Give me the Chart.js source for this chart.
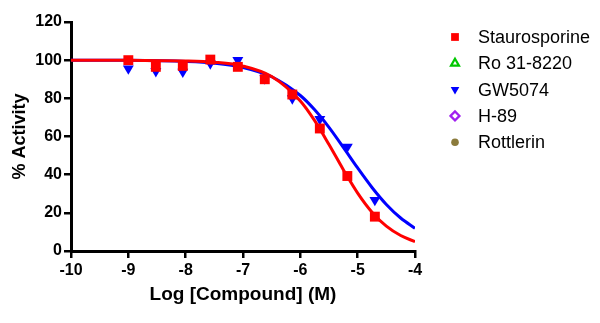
<!DOCTYPE html>
<html>
<head>
<meta charset="utf-8">
<script src="https://cdn.jsdelivr.net/npm/chart.js@4.4.0/dist/chart.umd.min.js"></script>
<style>
  html, body { margin: 0; padding: 0; background: #fff; }
  #wrap { width: 600px; height: 323px; }
</style>
</head>
<body>
<div id="wrap"><canvas id="doseChart"></canvas></div>
<script>
// log molar concentration of each dilution (3-fold series)
const logConc = [-9, -8.52, -8.05, -7.57, -7.09, -6.62, -6.14, -5.66, -5.18, -4.70];
const stauroActivity = [100, 96.5, 97, 100.3, 96.5, 90, 82, 64.2, 39.3, 18];
const gwActivity = [95.6, 94.2, 93.9, 98.3, 100, 90.4, 80, 69.1, 54.6, 26.7];

// fitted dose-response curves, sampled along the x range
const fitX = [-10, -9, -8, -7.5, -7, -6.5, -6, -5.75, -5.5, -5.25, -5, -4.75, -4.5, -4.25, -4];
const stauroFit = [100, 99.9, 99.6, 98.9, 96.9, 91.4, 78.6, 68.3, 55.8, 42.6, 30.3, 20.3, 13.0, 8.1, 4.9];
const gwFit = [100, 99.9, 99.3, 98.4, 96.2, 91.3, 81.5, 74.0, 64.8, 54.3, 43.5, 33.3, 24.4, 17.3, 11.9];

const xTicks = [-10, -9, -8, -7, -6, -5, -4];
const yTicks = [0, 20, 40, 60, 80, 100, 120];

const compounds = ['Staurosporine', 'Ro 31-8220', 'GW5074', 'H-89', 'Rottlerin'];

const pairs = (xs, ys) => xs.map((x, i) => ({ x: x, y: ys[i] }));

Chart.defaults.font.family = "'Liberation Sans', Arial, sans-serif";
Chart.defaults.color = '#000';

const sideLegend = {
  id: 'sideLegend',
  afterDraw(chart) {
    const ctx = chart.ctx;
    const items = chart.data.datasets.filter(d => d.label);
    ctx.save();
    ctx.font = "18px 'Liberation Sans', Arial, sans-serif";
    ctx.textBaseline = 'middle';
    items.forEach((ds, i) => {
      const y = 37 + i * 26.3;
      ctx.fillStyle = ds.pointBackgroundColor;
      ctx.strokeStyle = ds.pointBorderColor;
      ctx.lineWidth = ds.legendBorder;
      Chart.helpers.drawPoint(ctx, {
        pointStyle: ds.pointStyle,
        rotation: ds.pointRotation || 0,
        radius: ds.legendRadius,
        borderWidth: ds.legendBorder
      }, 455, y);
      ctx.fillStyle = '#000';
      ctx.fillText(ds.label, 478, y + 1);
    });
    ctx.restore();
  }
};

const axisFont = { size: 16, weight: 'bold' };

new Chart(document.getElementById('doseChart'), {
  type: 'scatter',
  data: {
    datasets: [
      {
        label: compounds[0],
        data: pairs(logConc, stauroActivity),
        pointStyle: 'rect',
        pointRadius: 7,
        pointHoverRadius: 7,
        pointBackgroundColor: '#ff0000',
        pointBorderColor: '#ff0000',
        pointBorderWidth: 0,
        legendRadius: 5.5,
        legendBorder: 0,
        order: 1
      },
      {
        label: compounds[1],
        data: [],
        pointStyle: 'triangle',
        pointBackgroundColor: 'rgba(0,0,0,0)',
        pointBorderColor: '#00c800',
        legendRadius: 4.6,
        legendBorder: 2.2,
        order: 1
      },
      {
        label: compounds[2],
        data: pairs(logConc, gwActivity),
        pointStyle: 'triangle',
        pointRotation: 180,
        pointRadius: 6.3,
        pointHoverRadius: 6.3,
        pointBackgroundColor: '#0000ff',
        pointBorderColor: '#0000ff',
        pointBorderWidth: 0,
        legendRadius: 5,
        legendBorder: 0,
        order: 1
      },
      {
        label: compounds[3],
        data: [],
        pointStyle: 'rectRot',
        pointBackgroundColor: 'rgba(0,0,0,0)',
        pointBorderColor: '#a020f0',
        legendRadius: 4.5,
        legendBorder: 2.2,
        order: 1
      },
      {
        label: compounds[4],
        data: [],
        pointStyle: 'circle',
        pointBackgroundColor: '#8b7b3c',
        pointBorderColor: '#8b7b3c',
        legendRadius: 3.8,
        legendBorder: 0,
        order: 1
      },
      {
        label: '',
        data: pairs(fitX, stauroFit),
        showLine: true,
        cubicInterpolationMode: 'monotone',
        borderColor: '#ff0000',
        borderWidth: 3,
        pointRadius: 0,
        pointHoverRadius: 0,
        order: 2
      },
      {
        label: '',
        data: pairs(fitX, gwFit),
        showLine: true,
        cubicInterpolationMode: 'monotone',
        borderColor: '#0000ff',
        borderWidth: 3,
        pointRadius: 0,
        pointHoverRadius: 0,
        order: 2
      }
    ]
  },
  options: {
    responsive: true,
    maintainAspectRatio: false,
    animation: false,
    events: [],
    layout: { padding: { left: 0, top: 22, right: 185, bottom: 0 } },
    plugins: {
      legend: { display: false },
      tooltip: { enabled: false }
    },
    scales: {
      x: {
        type: 'linear',
        min: -10,
        max: -4,
        afterBuildTicks: (scale) => { scale.ticks = xTicks.map(v => ({ value: v })); },
        afterFit: (scale) => { scale.height = 72; },
        ticks: { font: axisFont, color: '#000', padding: 3 },
        grid: { drawOnChartArea: false, drawTicks: true, tickLength: 7, color: '#000', lineWidth: 2.5 },
        border: { display: true, color: '#000', width: 3 },
        title: {
          display: true,
          text: 'Log [Compound] (M)',
          font: { size: 19, weight: 'bold' },
          color: '#000',
          padding: { top: 0, bottom: 17 }
        }
      },
      y: {
        type: 'linear',
        min: 0,
        max: 120,
        afterBuildTicks: (scale) => { scale.ticks = yTicks.map(v => ({ value: v })); },
        afterFit: (scale) => { scale.width = 71; },
        ticks: { font: axisFont, color: '#000', padding: 2 },
        grid: { drawOnChartArea: false, drawTicks: true, tickLength: 7, color: '#000', lineWidth: 2.5 },
        border: { display: true, color: '#000', width: 3 },
        title: {
          display: true,
          text: '% Activity',
          font: { size: 18, weight: 'bold' },
          color: '#000',
          padding: { top: 9, bottom: 0 }
        }
      }
    }
  },
  plugins: [sideLegend]
});
</script>
</body>
</html>
